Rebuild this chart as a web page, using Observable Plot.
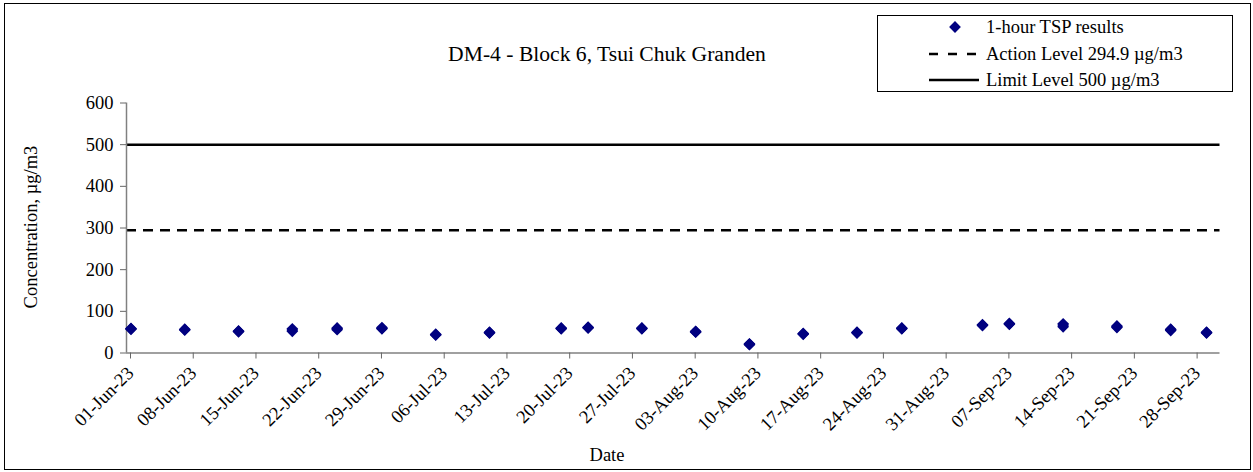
<!DOCTYPE html>
<html><head><meta charset="utf-8">
<script src="https://cdn.jsdelivr.net/npm/d3@7"></script>
<script src="https://cdn.jsdelivr.net/npm/@observablehq/plot@0.6"></script>
<style>body{margin:0;background:#fff} svg{display:block}</style>
</head><body><div id="chart"></div>
<script>
// Sampling dates (3 one-hour readings each)
const sampleDates = ["2023-06-01","2023-06-07","2023-06-13","2023-06-19","2023-06-24","2023-06-29",
  "2023-07-05","2023-07-11","2023-07-19","2023-07-22","2023-07-28","2023-08-03","2023-08-09",
  "2023-08-15","2023-08-21","2023-08-26","2023-09-04","2023-09-07","2023-09-13","2023-09-19",
  "2023-09-25","2023-09-29"];
const reading1 = [57,55,51,52,56,58,43,48,58,60,58,50,20,45,48,58,66,69,63,61,54,48];
const reading2 = [58,56,52,55,58,59,44,49,59,61,59,51,21,46,49,59,67,70,67,63,56,49];
const reading3 = [59,57,53,58,60,61,45,50,60,62,60,52,22,47,50,60,68,71,70,65,57,50];
const tickDates = ["2023-06-01","2023-06-08","2023-06-15","2023-06-22","2023-06-29","2023-07-06",
  "2023-07-13","2023-07-20","2023-07-27","2023-08-03","2023-08-10","2023-08-17","2023-08-24",
  "2023-08-31","2023-09-07","2023-09-14","2023-09-21","2023-09-28"];
const xDomain = ["2023-06-01","2023-10-01"];
const yTicks = [0,100,200,300,400,500,600];
const actionLevel = 294.9;
const limitLevel = 500;
const titleText = "DM-4 - Block 6, Tsui Chuk Granden";
const xLabel = "Date";
const yLabel = "Concentration, µg/m3";
const legendLabels = ["1-hour TSP results","Action Level 294.9 µg/m3","Limit Level 500 µg/m3"];

const parse = d3.utcParse("%Y-%m-%d");
const HALF_DAY = 12 * 3600 * 1000; // points sit mid-day on the date axis
const rows = sampleDates.flatMap((d, i) =>
  [reading1[i], reading2[i], reading3[i]].map(v => ({date: new Date(+parse(d) + HALF_DAY), value: v})));

const FONT = "'Liberation Serif', 'Times New Roman', serif";
const NAVY = "#000080";

const svg = Plot.plot({
  width: 1253, height: 472,
  marginLeft: 126, marginRight: 33.5, marginTop: 102.5, marginBottom: 119.5,
  style: {fontFamily: FONT, fontSize: "18.5px", color: "#000", background: "#fff", overflow: "visible"},
  x: {type: "utc", domain: xDomain.map(parse)},
  y: {domain: [0, 600]},
  marks: [
    Plot.ruleY([limitLevel], {stroke: "#000", strokeWidth: 2.5}),
    Plot.ruleY([actionLevel], {stroke: "#000", strokeWidth: 2.5, strokeDasharray: "10,7"}),
    Plot.ruleY([0], {stroke: "#808080", strokeWidth: 1.5}),
    Plot.ruleX([parse(xDomain[0])], {stroke: "#808080", strokeWidth: 1.5}),
    Plot.axisY({ticks: yTicks, tickSize: 6, tickPadding: 7, label: null, stroke: "#666", fill: "#000", fontSize: 18.5}),
    Plot.axisX({ticks: tickDates.map(parse), tickFormat: d3.utcFormat("%d-%b-%y"), tickRotate: -45,
      tickSize: 6, tickPadding: 11, dx: 4, label: null, stroke: "#666", fill: "#000", fontSize: 18.5}),
    Plot.dot(rows, {x: "date", y: "value", symbol: "diamond2", r: 5.3, fill: NAVY, stroke: "none"})
  ]
});

const s = d3.select(svg);
s.append("rect").attr("x", 4.5).attr("y", 3.5).attr("width", 1246).attr("height", 466)
  .attr("fill", "none").attr("stroke", "#000").attr("stroke-width", 1);
s.append("text").text(titleText).attr("x", 607).attr("y", 61).attr("text-anchor", "middle")
  .attr("font-family", FONT).attr("font-size", 21.6).attr("fill", "#000");
s.append("text").text(xLabel).attr("x", 607).attr("y", 461).attr("text-anchor", "middle")
  .attr("font-family", FONT).attr("font-size", 18.5).attr("fill", "#000");
s.append("text").text(yLabel).attr("transform", "translate(37,227) rotate(-90)").attr("text-anchor", "middle")
  .attr("font-family", FONT).attr("font-size", 18.5).attr("fill", "#000");

// legend
const lg = s.append("g");
lg.append("rect").attr("x", 877.5).attr("y", 15.5).attr("width", 355).attr("height", 76)
  .attr("fill", "#fff").attr("stroke", "#000");
lg.append("path").attr("d", d3.symbol(d3.symbolDiamond2, Math.PI * 5.3 * 5.3)()).attr("transform", "translate(955,27)").attr("fill", NAVY);
lg.append("line").attr("x1", 929).attr("x2", 979).attr("y1", 54).attr("y2", 54)
  .attr("stroke", "#000").attr("stroke-width", 2.5).attr("stroke-dasharray", "9,10");
lg.append("line").attr("x1", 929).attr("x2", 979).attr("y1", 80).attr("y2", 80)
  .attr("stroke", "#000").attr("stroke-width", 2.5);
[33, 59.5, 86].forEach((y, i) => {
  lg.append("text").text(legendLabels[i]).attr("x", 986).attr("y", y).attr("text-anchor", "start")
    .attr("font-family", FONT).attr("font-size", 18.5).attr("fill", "#000");
});

document.getElementById("chart").appendChild(svg);
</script>
</body></html>
